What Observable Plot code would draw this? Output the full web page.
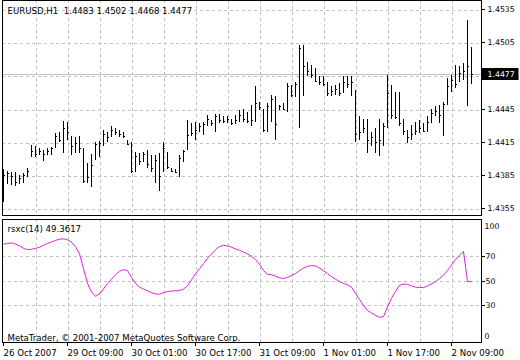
<!DOCTYPE html>
<html>
<head>
<meta charset="utf-8">
<script src="https://cdn.jsdelivr.net/npm/d3@7"></script>
<script src="https://cdn.jsdelivr.net/npm/@observablehq/plot@0.6"></script>
<style>
  html, body { margin: 0; padding: 0; background: #fff; }
  #chart { position: relative; width: 520px; height: 360px; background: #fff; overflow: hidden; }
  #chart svg { position: absolute; left: 0; }
</style>
</head>
<body>
<div id="chart"></div>
<script>
const symbolTitle = "EURUSD,H1\u00a0\u00a01.4483 1.4502 1.4468 1.4477";
const indicatorTitle = "rsxc(14) 49.3617";
const copyright = "MetaTrader, \u00a9 2001-2007 MetaQuotes Software Corp.";

const opens = [
  1.4365,1.4383,1.4386,1.4385,1.4381,1.4383,1.4386,
  1.4403,1.4407,1.4405,1.4407,1.4405,1.4407,1.4411,1.4421,1.4417,1.4428,1.4420,1.4413,1.4415,
  1.4410,1.4381,1.4383,1.4401,1.4413,1.4415,1.4422,1.4421,1.4427,1.4425,
  1.4423,1.4417,1.4414,1.4391,1.4402,1.4400,1.4405,1.4396,1.4392,1.4400,
  1.4390,1.4405,1.4391,1.4390,1.4389,1.4401,1.4410,1.4422,1.4424,1.4427,
  1.4430,1.4432,1.4436,1.4433,1.4439,1.4436,1.4435,1.4437,1.4433,1.4436,
  1.4440,1.4437,1.4435,1.4436,1.4451,1.4446,1.4427,1.4448,1.4455,1.4446,
  1.4448,1.4446,1.4466,1.4458,1.4468,1.4500,1.4484,1.4480,1.4476,1.4471,
  1.4470,1.4468,1.4460,1.4462,1.4464,1.4461,1.4470,1.4468,1.4462,1.4423,
  1.4425,1.4428,1.4418,1.4420,1.4416,1.4418,1.4430,1.4460,1.4440,1.4438,
  1.4433,1.4426,1.4420,1.4423,1.4426,1.4428,1.4426,1.4434,1.4442,1.4444,
  1.4440,1.4450,1.4466,1.4472,1.4471,1.4478,1.4480,1.4483
];
const highs = [
  1.4391,1.4390,1.4389,1.4389,1.4386,1.4388,1.4392,
  1.4413,1.4412,1.4410,1.4409,1.4410,1.4411,1.4424,1.4425,1.4435,1.4434,1.4421,1.4420,1.4421,
  1.4410,1.4397,1.4405,1.4416,1.4417,1.4427,1.4425,1.4430,1.4428,1.4427,
  1.4425,1.4418,1.4416,1.4407,1.4406,1.4407,1.4409,1.4404,1.4404,1.4406,
  1.4416,1.4407,1.4392,1.4391,1.4404,1.4409,1.4436,1.4433,1.4434,1.4433,
  1.4434,1.4440,1.4436,1.4441,1.4441,1.4439,1.4439,1.4437,1.4440,1.4445,
  1.4446,1.4443,1.4449,1.4466,1.4452,1.4446,1.4451,1.4458,1.4457,1.4449,
  1.4451,1.4469,1.4467,1.4470,1.4503,1.4503,1.4488,1.4485,1.4483,1.4475,
  1.4475,1.4470,1.4466,1.4467,1.4469,1.4475,1.4475,1.4475,1.4463,1.4439,
  1.4437,1.4437,1.4425,1.4428,1.4437,1.4433,1.4476,1.4467,1.4461,1.4461,
  1.4437,1.4427,1.4431,1.4434,1.4436,1.4433,1.4439,1.4446,1.4448,1.4449,
  1.4452,1.4474,1.4476,1.4485,1.4484,1.4487,1.4526,1.4502
];
const lows = [
  1.4362,1.4378,1.4377,1.4376,1.4378,1.4379,1.4384,
  1.4402,1.4402,1.4404,1.4399,1.4404,1.4404,1.4410,1.4416,1.4406,1.4418,1.4404,1.4406,1.4406,
  1.4379,1.4379,1.4375,1.4400,1.4402,1.4412,1.4416,1.4420,1.4422,1.4420,
  1.4419,1.4413,1.4388,1.4389,1.4395,1.4398,1.4392,1.4389,1.4379,1.4372,
  1.4389,1.4391,1.4389,1.4388,1.4384,1.4398,1.4409,1.4421,1.4418,1.4425,
  1.4422,1.4430,1.4430,1.4425,1.4433,1.4433,1.4433,1.4431,1.4433,1.4434,
  1.4434,1.4433,1.4430,1.4434,1.4445,1.4425,1.4425,1.4434,1.4418,1.4445,
  1.4445,1.4443,1.4456,1.4456,1.4428,1.4457,1.4475,1.4474,1.4470,1.4467,
  1.4466,1.4457,1.4457,1.4458,1.4457,1.4460,1.4465,1.4457,1.4416,1.4418,
  1.4424,1.4406,1.4412,1.4406,1.4403,1.4412,1.4428,1.4437,1.4437,1.4430,
  1.4422,1.4415,1.4418,1.4422,1.4424,1.4425,1.4425,1.4434,1.4439,1.4433,
  1.4421,1.4449,1.4461,1.4465,1.4470,1.4472,1.4448,1.4468
];
const closes = [
  1.4386,1.4388,1.4385,1.4380,1.4383,1.4386,1.4390,
  1.4408,1.4405,1.4408,1.4405,1.4408,1.4410,1.4421,1.4418,1.4428,1.4425,1.4412,1.4415,1.4410,
  1.4381,1.4384,1.4395,1.4414,1.4415,1.4423,1.4420,1.4427,1.4425,1.4423,
  1.4421,1.4414,1.4390,1.4403,1.4399,1.4405,1.4396,1.4392,1.4400,1.4385,
  1.4410,1.4393,1.4390,1.4389,1.4401,1.4408,1.4422,1.4424,1.4427,1.4430,
  1.4432,1.4437,1.4433,1.4439,1.4436,1.4435,1.4437,1.4433,1.4436,1.4440,
  1.4437,1.4435,1.4436,1.4451,1.4447,1.4427,1.4448,1.4455,1.4432,1.4448,
  1.4446,1.4466,1.4458,1.4468,1.4501,1.4484,1.4480,1.4476,1.4471,1.4470,
  1.4468,1.4460,1.4462,1.4464,1.4460,1.4470,1.4468,1.4470,1.4423,1.4425,
  1.4428,1.4418,1.4420,1.4416,1.4418,1.4430,1.4460,1.4440,1.4438,1.4433,
  1.4426,1.4420,1.4423,1.4426,1.4428,1.4426,1.4434,1.4442,1.4444,1.4440,
  1.4450,1.4466,1.4472,1.4468,1.4478,1.4480,1.4484,1.4477
];
const rsxc = [
  80,80.5,81,80,78.5,76.5,75.5,75.8,76.5,77.5,
  79,80.5,81.8,83,84,84.3,83.5,81.5,78,72,
  60,48,41,37.5,39.5,43.5,48,51.5,55,58,
  59.2,58.5,53,48,45,43.5,42,40.5,39.5,39.3,
  40.5,41.5,41.8,42,42.2,43.5,46,51,56,60,
  64,68.5,72,75.5,78,79,78.5,77.5,76,75,
  73.5,72,70,67.5,63.5,58.5,55.5,55,54,52.5,
  52,53,54.5,56,58.5,60.5,62,62.5,62.3,60.5,
  58.3,56,53.5,51.5,49.5,48,47,45,40,35,
  30,26,24,22,20.5,21,29,36,41.5,46.5,
  47.5,47.3,46,45,44.7,44.7,46,47.8,49.5,52,
  54.8,58.5,63,67.5,71,74,49.6,49.3617
];

const tickBars = [0, 16, 32, 48, 64, 80, 96, 112];
const tickLabels = ["26 Oct 2007", "29 Oct 09:00", "30 Oct 01:00", "30 Oct 17:00",
                    "31 Oct 09:00", "1 Nov 01:00", "1 Nov 17:00", "2 Nov 09:00"];
const gridBars = [8, 16, 24, 32, 40, 48, 56, 64, 72, 80, 88, 96, 104, 112];
const priceGrid = [1.4355, 1.4385, 1.4415, 1.4445, 1.4475, 1.4505, 1.4535];
const priceLabels = [1.4355, 1.4385, 1.4415, 1.4445, 1.4505, 1.4535];
const lastPrice = 1.4477;
const oscLevels = [30, 50, 70];
const oscEnds = [100, 0];

const bars = opens.map((o, i) => ({i, o, h: highs[i], l: lows[i], c: closes[i]}));
const osc = rsxc.map((v, i) => ({i, v}));

const gridStyle = {stroke: "#c0c0c0", strokeDasharray: "3,3", shapeRendering: "crispEdges"};
const xDomain = [-0.25, 119.5];
const font = "DejaVu Sans";
const fmt4 = d3.format(".4f");

const upper = Plot.plot({
  width: 520, height: 217,
  marginLeft: 2, marginRight: 39, marginTop: 0, marginBottom: 2,
  style: {fontFamily: font, fontSize: "8.6px", background: "transparent", color: "#000", overflow: "visible"},
  x: {domain: xDomain, axis: null},
  y: {domain: [1.43499, 1.45440], axis: null},
  marks: [
    Plot.ruleY(priceGrid, gridStyle),
    Plot.ruleX(gridBars, {...gridStyle, dx: 1}),
    Plot.ruleY([lastPrice], {stroke: "#c0c0c0", shapeRendering: "crispEdges"}),
    Plot.ruleX(bars, {x: "i", y1: "l", y2: "h", stroke: "#000", shapeRendering: "crispEdges"}),
    Plot.link(bars, {x1: d => d.i - 0.25, x2: "i", y1: "o", y2: "o", stroke: "#000", shapeRendering: "crispEdges"}),
    Plot.link(bars, {x1: "i", x2: d => d.i + 0.25, y1: "c", y2: "c", stroke: "#000", shapeRendering: "crispEdges"}),
    Plot.frame({stroke: "#000", shapeRendering: "crispEdges"}),
    Plot.axisY(priceLabels, {anchor: "right", label: null, tickSize: 3, tickPadding: 3, tickFormat: fmt4,
      fontSize: "7.8px", dy: -1, shapeRendering: "crispEdges"}),
    (index, scales, values, dims) => {
      const y = Math.round(scales.y(lastPrice));
      const x0 = dims.width - dims.marginRight;
      const g = d3.create("svg:g");
      g.append("rect").attr("x", x0 + 0.5).attr("y", y - 6).attr("width", 37).attr("height", 12).attr("fill", "#000");
      return g.node();
    },
    Plot.text([lastPrice], {frameAnchor: "right", y: d => d, text: fmt4, textAnchor: "start", dx: 6,
      fontSize: "7.8px", fill: "#fff"}),
    Plot.text([symbolTitle], {frameAnchor: "top-left", textAnchor: "start", lineAnchor: "top", dx: 5, dy: 7.4, fill: "#000"})
  ]
});
upper.style.top = "0px";

const lower = Plot.plot({
  width: 520, height: 143,
  marginLeft: 2, marginRight: 39, marginTop: 2, marginBottom: 18,
  style: {fontFamily: font, fontSize: "8.6px", background: "transparent", color: "#000", overflow: "visible"},
  x: {domain: xDomain, label: null},
  y: {domain: [0, 100], axis: null, label: null},
  marks: [
    Plot.ruleY(oscLevels, gridStyle),
    Plot.ruleX(gridBars, {...gridStyle, dx: 1}),
    Plot.line(osc, {x: "i", y: "v", stroke: "#e020e0", strokeWidth: 1}),
    Plot.frame({stroke: "#000", shapeRendering: "crispEdges"}),
    Plot.axisX(tickBars, {anchor: "bottom", label: null, tickSize: 4, tickPadding: 3, textAnchor: "start",
      tickFormat: d => tickLabels[tickBars.indexOf(d)], shapeRendering: "crispEdges"}),
    Plot.axisY(oscLevels, {anchor: "right", label: null, tickSize: 3, tickPadding: 1, fontSize: "7.8px", shapeRendering: "crispEdges"}),
    Plot.text([oscEnds[0]], {frameAnchor: "right", y: d => d, text: d => String(d), textAnchor: "start", dx: 3, dy: 7, fontSize: "7.8px", fill: "#000"}),
    Plot.text([oscEnds[1]], {frameAnchor: "right", y: d => d, text: d => String(d), textAnchor: "start", dx: 3, dy: -6, fontSize: "7.8px", fill: "#000"}),
    Plot.text([indicatorTitle], {frameAnchor: "top-left", textAnchor: "start", lineAnchor: "top", dx: 5, dy: 6.4, fill: "#000"}),
    Plot.text([copyright], {frameAnchor: "bottom-left", textAnchor: "start", lineAnchor: "bottom", dx: 5, dy: -1.5, fill: "#000"})
  ]
});
lower.style.top = "217px";

document.getElementById("chart").append(upper, lower);
</script>
</body>
</html>
